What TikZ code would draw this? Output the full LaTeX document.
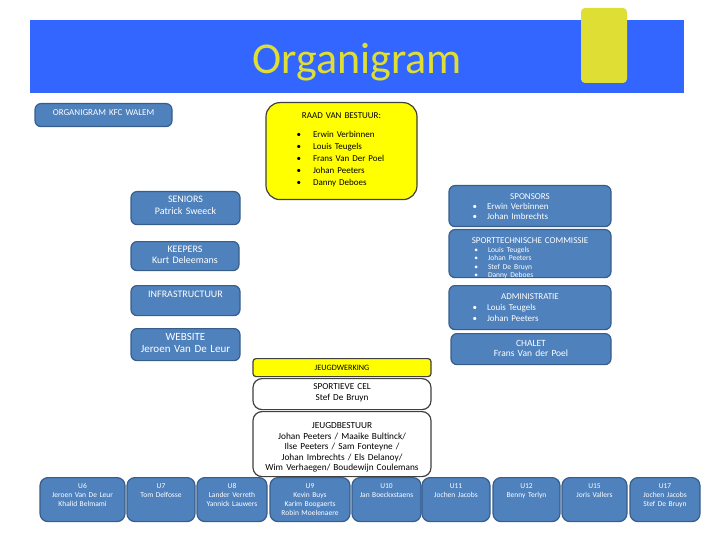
\documentclass[tikz,border=0pt]{standalone}
\usepackage{fontspec}
\setmainfont{Carlito}
\usepackage{enumitem}
\definecolor{kfcBanner}{RGB}{51,102,255}
\definecolor{kfcTitle}{RGB}{222,222,52}
\definecolor{kfcBlue}{RGB}{79,129,189}
\definecolor{kfcBlueLine}{RGB}{56,93,138}
\definecolor{kfcYellow}{RGB}{255,255,0}

\begin{document}
\begin{tikzpicture}[
  x=1pt, y=-1pt,
  box/.style={
    draw,
    line width=1.2pt,
    rounded corners=6pt,
    anchor=north,
    inner xsep=0pt,
    inner ysep=0pt,
    align=center,
    font=\fontsize{9}{12}\selectfont
  },
  bluebox/.style={box, draw=kfcBlueLine, fill=kfcBlue, text=white},
  yellowbox/.style={box, draw=black!75, fill=kfcYellow},
  whitebox/.style={box, draw=black!75, fill=white, rounded corners=9pt},
  teambox/.style={
    bluebox,
    rounded corners=8pt,
    text height=11pt,
    text depth=33pt,
    font=\fontsize{7.5}{9}\selectfont
  }
]
  \useasboundingbox (0,0) rectangle (720,540);

  % banner
  \fill[kfcBanner] (30,20) rectangle (684,93);
  \fill[kfcTitle, rounded corners=4pt] (581,8) rectangle (627,83);
  \node[anchor=base, text=kfcTitle, font=\fontsize{44}{44}\selectfont]
    (title) at (357,74) {Organigram};

  % board
  \node[bluebox, text width=137pt, text height=12pt, text depth=11pt]
    (org) at (103.5,103) {ORGANIGRAM KFC WALEM};
  \node[yellowbox, rounded corners=14pt, align=left,
    text width=151pt, text height=16pt, text depth=81pt]
    (raad) at (341.5,102) {{\centering RAAD VAN BESTUUR:\par}
      \begin{itemize}[leftmargin=47pt, labelsep=12pt, nosep, topsep=7pt]
        \item Erwin Verbinnen
        \item Louis Teugels
        \item Frans Van Der Poel
        \item Johan Peeters
        \item Danny Deboes
      \end{itemize}};

  % left column
  \node[bluebox, text width=109pt, text height=10.5pt, text depth=22.5pt,
    font=\fontsize{10}{12}\selectfont]
    (seniors) at (185.5,191) {SENIORS\\Patrick Sweeck};
  \node[bluebox, text width=108pt, text height=10.5pt, text depth=18.5pt,
    font=\fontsize{10}{11.5}\selectfont]
    (keepers) at (185,241) {KEEPERS\\Kurt Deleemans};
  \node[bluebox, text width=109pt, text height=11.5pt, text depth=18.5pt,
    font=\fontsize{10}{12}\selectfont]
    (infra) at (185.5,285) {INFRASTRUCTUUR};
  \node[bluebox, text width=109pt, text height=11.5pt, text depth=20.5pt,
    font=\fontsize{11}{12.5}\selectfont]
    (website) at (185.5,328) {WEBSITE\\Jeroen Van De Leur};

  % right column
  \node[bluebox, align=left, text width=162pt, text height=14pt, text depth=27pt,
    font=\fontsize{9}{10}\selectfont]
    (sponsors) at (530,185) {{\centering SPONSORS\par}
      \begin{itemize}[leftmargin=38pt, labelsep=10pt, nosep]
        \item Erwin Verbinnen
        \item Johan Imbrechts
      \end{itemize}};
  \node[bluebox, align=left, text width=162pt, text height=14pt, text depth=34pt]
    (stc) at (530,229) {{\centering SPORTTECHNISCHE COMMISSIE\par}
      {\fontsize{7.5}{8.5}\selectfont
      \begin{itemize}[leftmargin=39pt, labelsep=10pt, nosep]
        \item Louis Teugels
        \item Johan Peeters
        \item Stef De Bruyn
        \item Danny Deboes
      \end{itemize}}};
  \node[bluebox, align=left, text width=162pt, text height=14pt, text depth=30pt,
    font=\fontsize{9}{11}\selectfont]
    (admin) at (530,285) {{\centering ADMINISTRATIE\par}
      \begin{itemize}[leftmargin=38pt, labelsep=10pt, nosep]
        \item Louis Teugels
        \item Johan Peeters
      \end{itemize}};
  \node[bluebox, text width=160pt, text height=13pt, text depth=18pt,
    font=\fontsize{9.5}{10}\selectfont]
    (chalet) at (531,333) {CHALET\\Frans Van der Poel};

  % youth
  \node[yellowbox, rounded corners=3pt, text width=178pt, text height=12pt,
    text depth=6pt, font=\fontsize{8.2}{10}\selectfont]
    (jeugd) at (342,358) {JEUGDWERKING};
  \node[whitebox, text width=178pt, text height=11pt, text depth=20pt,
    font=\fontsize{9.2}{11}\selectfont]
    (sportcel) at (342,378) {SPORTIEVE CEL\\Stef De Bruyn};
  \node[whitebox, text width=178pt, text height=17pt, text depth=48pt,
    font=\fontsize{9.3}{10.5}\selectfont]
    (jbestuur) at (342,411) {JEUGDBESTUUR\\Johan Peeters / Maaike Bultinck/\\
      Ilse Peeters / Sam Fonteyne /\\Johan Imbrechts / Els Delanoy/\\
      Wim Verhaegen/ Boudewijn Coulemans};

  % teams
  \node[teambox, text width=85pt] (u6) at (82.5,477)
    {U6\\Jeroen Van De Leur\\Khalid Belmami};
  \node[teambox, text width=68pt] (u7) at (161,477) {U7\\Tom Delfosse};
  \node[teambox, text width=70pt] (u8) at (232,477)
    {U8\\Lander Verreth\\Yannick Lauwers};
  \node[teambox, text width=80pt] (u9) at (310,477)
    {U9\\Kevin Buys\\Karim Boogaerts\\Robin Moelenaere};
  \node[teambox, text width=69pt] (u10) at (386.5,477) {U10\\Jan Boeckxstaens};
  \node[teambox, text width=68pt] (u11) at (456,477) {U11\\Jochen Jacobs};
  \node[teambox, text width=67pt] (u12) at (526.5,477) {U12\\Benny Terlyn};
  \node[teambox, text width=65pt] (u15) at (594.5,477) {U15\\Joris Vallers};
  \node[teambox, text width=70pt] (u17) at (665,477)
    {U17\\Jochen Jacobs\\Stef De Bruyn};
\end{tikzpicture}
\end{document}
